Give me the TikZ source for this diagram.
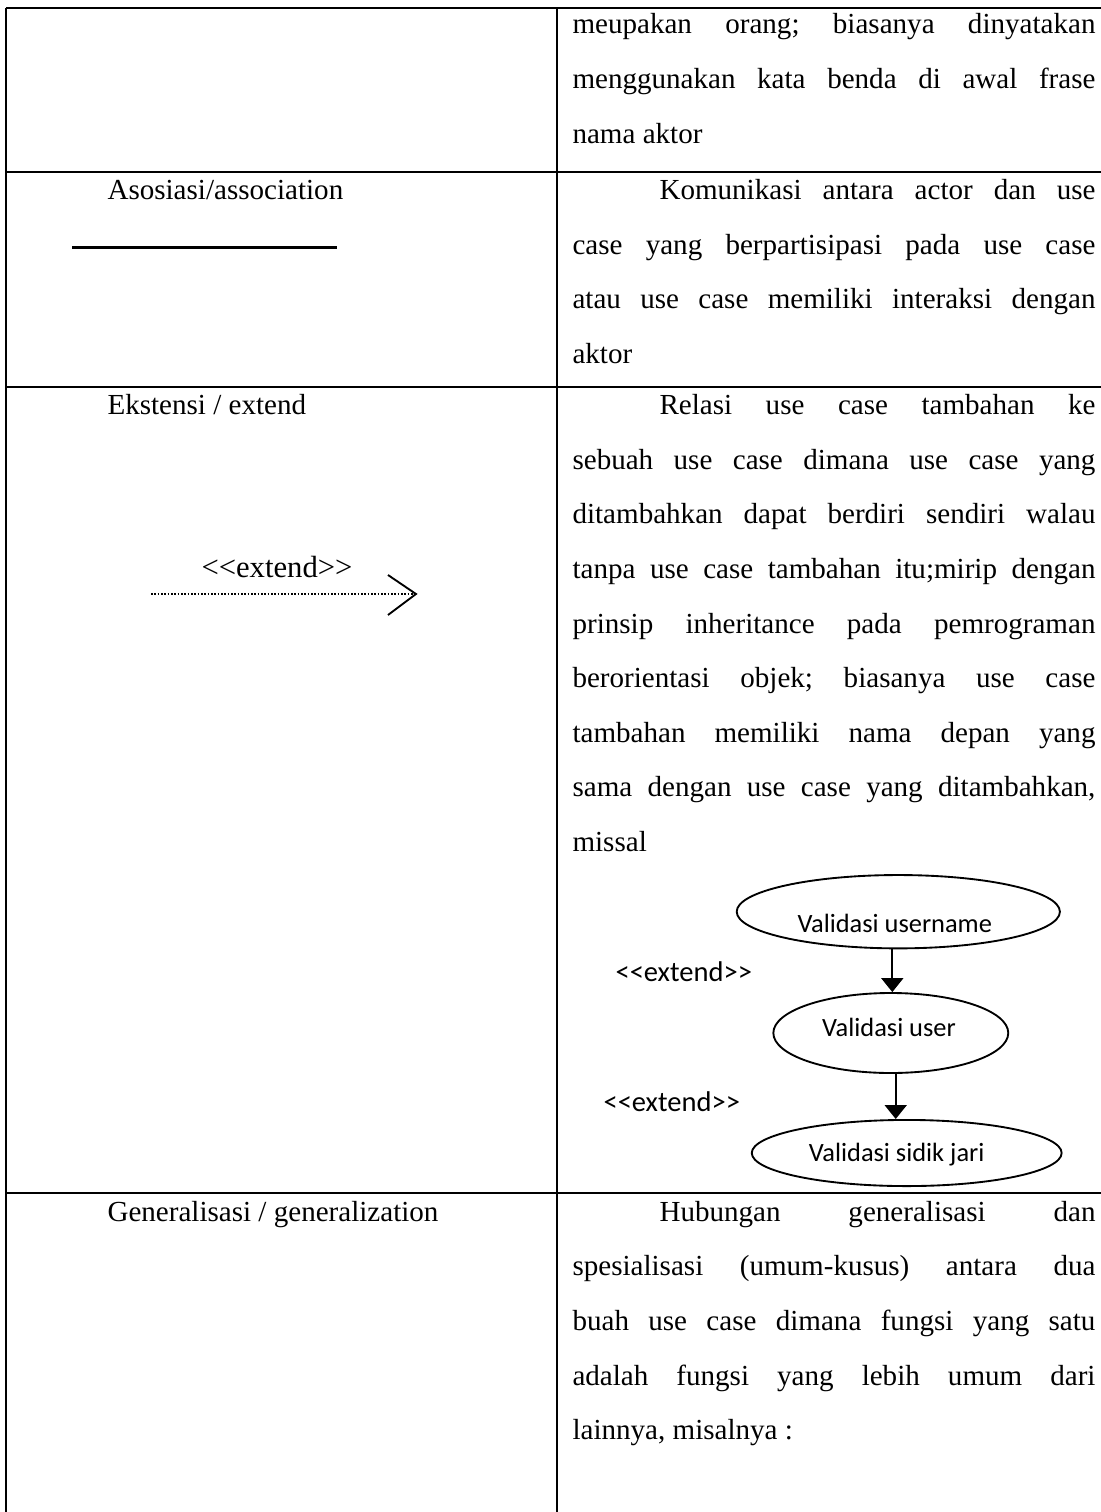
\documentclass[tikz,border=0pt]{standalone}
\usepackage{fontspec}
\setmainfont{Liberation Serif}
\newfontfamily\ucfont{Carlito}
\usetikzlibrary{shapes.geometric,arrows.meta}
\frenchspacing

% justified lines of the description column
\newcommand{\fullline}[1]{\makebox[196.1pt][s]{#1}}
\newcommand{\indline}[1]{\makebox[163.5pt][s]{#1}}

\begin{document}
\begin{tikzpicture}[x=0.375pt,y=-0.375pt,
  grid/.style={line width=0.8pt},
  txt/.style={anchor=base west,inner sep=0pt,font=\fontsize{10.9pt}{13pt}\selectfont},
  uc/.style={ellipse,draw,line width=0.7pt,inner sep=0pt},
  uctxt/.style={anchor=base,inner sep=0pt,font=\ucfont\fontsize{9.9pt}{12pt}\selectfont},
  uclbl/.style={anchor=base west,inner sep=0pt,font=\ucfont\fontsize{10.7pt}{12pt}\selectfont},
  ext/.style={line width=0.65pt,-{Triangle[length=5.2pt,width=8.2pt]}},
  dotline/.style={line width=0.8pt,dash pattern=on 0.6pt off 0.65pt},
  chevron/.style={line width=0.7pt},
]
\useasboundingbox (0,0) rectangle (1101,1512);

% table rules
\draw[grid] (6,8) -- (1101,8);
\draw[grid] (6,171.7) -- (1101,171.7);
\draw[grid] (6,386.7) -- (1101,386.7);
\draw[grid] (6,1193.3) -- (1101,1193.3);
\draw[grid] (6,8) -- (6,1512);
\draw[grid] (556.7,8) -- (556.7,1512);

% row 1 (continued description)
\node[txt] (r1a) at (572,33.5) {\fullline{meupakan orang; biasanya dinyatakan}};
\node[txt] (r1b) at (572,88.5) {\fullline{menggunakan kata benda di awal frase}};
\node[txt] (r1c) at (572,143.5) {nama aktor};

% row 2: association
\node[txt] (l2) at (107,199.7) {Asosiasi/association};
\coordinate (as) at (72,247.7);
\coordinate (ae) at (337,247.7);
\draw[line width=0.9pt] (as) -- (ae);
\node[txt] (r2a) at (659,199.7) {\indline{Komunikasi antara actor dan use}};
\node[txt] (r2b) at (572,254.3) {\fullline{case yang berpartisipasi pada use case}};
\node[txt] (r2c) at (572,308.9) {\fullline{atau use case memiliki interaksi dengan}};
\node[txt] (r2d) at (572,363.5) {aktor};

% row 3: extend
\node[txt] (l3) at (107,414.7) {Ekstensi / extend};
\node[txt,font=\fontsize{11.5pt}{13pt}\selectfont] (xl) at (201,577) {{<}{<}extend{>}{>}};
\coordinate (xs) at (151,594);
\coordinate (xtip) at (416,594);
\coordinate (xu) at (388,575);
\coordinate (xd) at (388,615);
\draw[dotline] (xs) -- (413,594);
\draw[chevron] (xu) -- (xtip) -- (xd);

\node[txt] (r3a) at (659,414.7) {\indline{Relasi use case tambahan ke}};
\node[txt] (r3b) at (572,469.3) {\fullline{sebuah use case dimana use case yang}};
\node[txt] (r3c) at (572,523.9) {\fullline{ditambahkan dapat berdiri sendiri walau}};
\node[txt] (r3d) at (572,578.5) {\fullline{tanpa use case tambahan itu;mirip dengan}};
\node[txt] (r3e) at (572,633.1) {\fullline{prinsip inheritance pada pemrograman}};
\node[txt] (r3f) at (572,687.7) {\fullline{berorientasi objek; biasanya use case}};
\node[txt] (r3g) at (572,742.3) {\fullline{tambahan memiliki nama depan yang}};
\node[txt] (r3h) at (572,796.9) {\fullline{sama dengan use case yang ditambahkan,}};
\node[txt] (r3i) at (572,851.5) {missal};

% use case example
\node[uc,minimum width=121.2pt,minimum height=27.5pt] (e1) at (898.3,911.7) {};
\node[uc,minimum width=88.1pt,minimum height=30pt] (e2) at (890.8,1033) {};
\node[uc,minimum width=116.2pt,minimum height=24.8pt] (e3) at (906.7,1153) {};
\node[uctxt] (t1) at (894.8,932.5) {Validasi username};
\node[uctxt] (t2) at (889,1036.7) {Validasi user};
\node[uctxt] (t3) at (896.7,1161.7) {Validasi sidik jari};
\coordinate (a1) at (892.3,0);
\coordinate (a2) at (895.7,0);
\draw[ext] (e1.south -| a1) -- (e2.north -| a1);
\draw[ext] (e2.south -| a2) -- (e3.north -| a2);
\node[uclbl] (k1) at (615,981.7) {{<}{<}extend{>}{>}};
\node[uclbl] (k2) at (603,1111.7) {{<}{<}extend{>}{>}};

% row 4: generalization
\node[txt] (l4) at (107,1221.3) {Generalisasi / generalization};
\node[txt] (r4a) at (659,1221.3) {\indline{Hubungan generalisasi dan}};
\node[txt] (r4b) at (572,1275.9) {\fullline{spesialisasi (umum-kusus) antara dua}};
\node[txt] (r4c) at (572,1330.5) {\fullline{buah use case dimana fungsi yang satu}};
\node[txt] (r4d) at (572,1385.1) {\fullline{adalah fungsi yang lebih umum dari}};
\node[txt] (r4e) at (572,1439.7) {lainnya, misalnya :};
\end{tikzpicture}
\end{document}
